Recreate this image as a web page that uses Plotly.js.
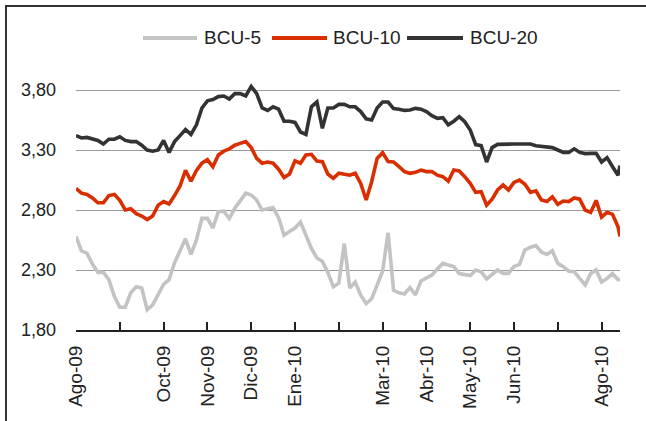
<!DOCTYPE html>
<html>
<head>
<meta charset="utf-8">
<script src="https://cdn.plot.ly/plotly-3.0.1.min.js"></script>
<style>
  html, body { margin: 0; padding: 0; background: #fff; }
  #wrap { position: relative; width: 646px; height: 421px; overflow: hidden; }
  #chart { width: 646px; height: 421px; }
  #frame { position: absolute; left: 5px; top: 5px; width: 700px; height: 500px;
           border-left: 2px solid #333; border-top: 2px solid #333; pointer-events: none; }
</style>
</head>
<body>
<div id="wrap"><div id="chart"></div><div id="frame"></div></div>
<script>
// sample positions in months since Ago-09 (every 1/8 month, last point mid-August 2010)
const monthPos = Array.from({length: 100}, (_, k) => k / 8).concat([12.42]);

const tickMonths = [0,1,2,3,4,5,6,7,8,9,10,11,12];
const tickLabels = ['Ago-09','','Oct-09','Nov-09','Dic-09','Ene-10','','Mar-10','Abr-10','May-10','Jun-10','','Ago-10'];

const yTickVals = [1.80, 2.30, 2.80, 3.30, 3.80];
const yTickText = ['1,80','2,30','2,80','3,30','3,80'];

const seriesNames = ['BCU-5', 'BCU-10', 'BCU-20'];

const bcu5 = [2.58,2.46,2.44,2.35,2.28,2.28,2.22,2.08,1.99,1.99,
              2.11,2.16,2.15,1.97,2.01,2.10,2.18,2.22,2.36,2.46,
              2.56,2.43,2.55,2.73,2.73,2.65,2.786,2.79,2.73,2.814,
              2.875,2.94,2.925,2.883,2.80,2.81,2.82,2.736,2.59,2.62,
              2.65,2.70,2.58,2.48,2.40,2.37,2.28,2.16,2.19,2.52,
              2.15,2.20,2.09,2.02,2.06,2.18,2.29,2.61,2.13,2.11,
              2.10,2.153,2.092,2.208,2.236,2.258,2.308,2.355,2.342,2.328,
              2.27,2.258,2.253,2.30,2.286,2.225,2.26,2.30,2.272,2.272,
              2.33,2.347,2.467,2.49,2.503,2.45,2.43,2.46,2.355,2.328,
              2.29,2.286,2.23,2.175,2.27,2.30,2.20,2.23,2.27,2.22,2.22];

const bcu10 = [2.98,2.94,2.93,2.90,2.86,2.86,2.92,2.93,2.88,2.80,
               2.81,2.77,2.75,2.72,2.75,2.84,2.87,2.85,2.92,3.00,
               3.13,3.04,3.13,3.19,3.22,3.16,3.258,3.29,3.31,3.34,
               3.355,3.37,3.32,3.23,3.19,3.20,3.19,3.14,3.07,3.10,
               3.21,3.19,3.258,3.264,3.208,3.203,3.10,3.064,3.106,3.097,
               3.09,3.106,3.022,2.883,3.036,3.23,3.278,3.203,3.20,3.161,
               3.12,3.106,3.114,3.133,3.12,3.12,3.09,3.078,3.04,3.133,
               3.125,3.078,3.022,2.947,2.953,2.84,2.89,2.967,3.008,2.967,
               3.03,3.05,3.014,2.947,2.96,2.883,2.87,2.91,2.847,2.875,
               2.87,2.90,2.89,2.80,2.78,2.88,2.74,2.78,2.764,2.66,2.58];

const bcu20 = [3.42,3.40,3.405,3.39,3.38,3.35,3.39,3.39,3.41,3.38,
               3.37,3.37,3.34,3.30,3.29,3.30,3.38,3.28,3.37,3.42,
               3.47,3.43,3.51,3.65,3.71,3.72,3.745,3.75,3.725,3.77,
               3.77,3.75,3.83,3.77,3.65,3.63,3.66,3.64,3.54,3.54,
               3.53,3.45,3.43,3.66,3.70,3.48,3.65,3.65,3.68,3.68,
               3.66,3.66,3.62,3.56,3.55,3.65,3.70,3.70,3.645,3.64,
               3.63,3.633,3.647,3.64,3.62,3.586,3.564,3.57,3.51,3.54,
               3.578,3.536,3.467,3.345,3.336,3.20,3.32,3.347,3.35,3.35,
               3.35,3.35,3.35,3.35,3.336,3.33,3.33,3.32,3.30,3.28,
               3.28,3.31,3.28,3.27,3.272,3.272,3.20,3.236,3.16,3.09,3.17];

const seriesValues = [bcu5, bcu10, bcu20];
const seriesColors = ['#c3c3c3', '#d92f00', '#333333'];

const FONT = '"Liberation Sans", Arial, sans-serif';

const traces = seriesValues.map((vals, i) => ({
  type: 'scatter', mode: 'lines', name: seriesNames[i],
  x: monthPos, y: vals,
  line: {color: seriesColors[i], width: 3.6},
  showlegend: false, hoverinfo: 'skip'
}));

// custom legend (pixel positions converted to paper coords)
const L = 76, R = 620, T = 66, B = 330;
const px = v => (v - L) / (R - L);
const py = v => (B - v) / (B - T);
const legLine = [[143, 197], [272, 327], [407, 463]];
const legText = [202, 331, 468];
const legY = 38;

const shapes = legLine.map((s, i) => ({
  type: 'line', xref: 'paper', yref: 'paper',
  x0: px(s[0]), x1: px(s[1]), y0: py(legY), y1: py(legY),
  line: {color: seriesColors[i], width: 4}
}));
const annotations = legText.map((x, i) => ({
  xref: 'paper', yref: 'paper', x: px(x), y: py(legY - 1),
  xanchor: 'left', yanchor: 'middle', showarrow: false,
  text: seriesNames[i],
  font: {family: FONT, size: 19, color: '#222'}
}));

const layout = {
  width: 646, height: 421,
  margin: {l: L, r: 646 - R, t: T, b: 421 - B},
  paper_bgcolor: '#fff', plot_bgcolor: '#fff',
  showlegend: false,
  xaxis: {
    range: [0, 12.42], tickvals: tickMonths, ticktext: tickLabels,
    tickangle: -90, ticks: 'inside', ticklen: 8, tickwidth: 2, tickcolor: '#222',
    showline: true, linecolor: '#222', linewidth: 2,
    showgrid: false, zeroline: false, ticklabelstandoff: 6,
    tickfont: {family: FONT, size: 19, color: '#222'}
  },
  yaxis: {
    range: [1.8, 4.0], tickvals: yTickVals, ticktext: yTickText,
    showgrid: true, gridcolor: '#9a9a9a', gridwidth: 1,
    zeroline: false, showline: false, ticks: '', ticklabelstandoff: 19,
    tickfont: {family: FONT, size: 18, color: '#222'}
  },
  shapes: shapes,
  annotations: annotations
};

Plotly.newPlot('chart', traces, layout, {staticPlot: true, displayModeBar: false});
</script>
</body>
</html>
